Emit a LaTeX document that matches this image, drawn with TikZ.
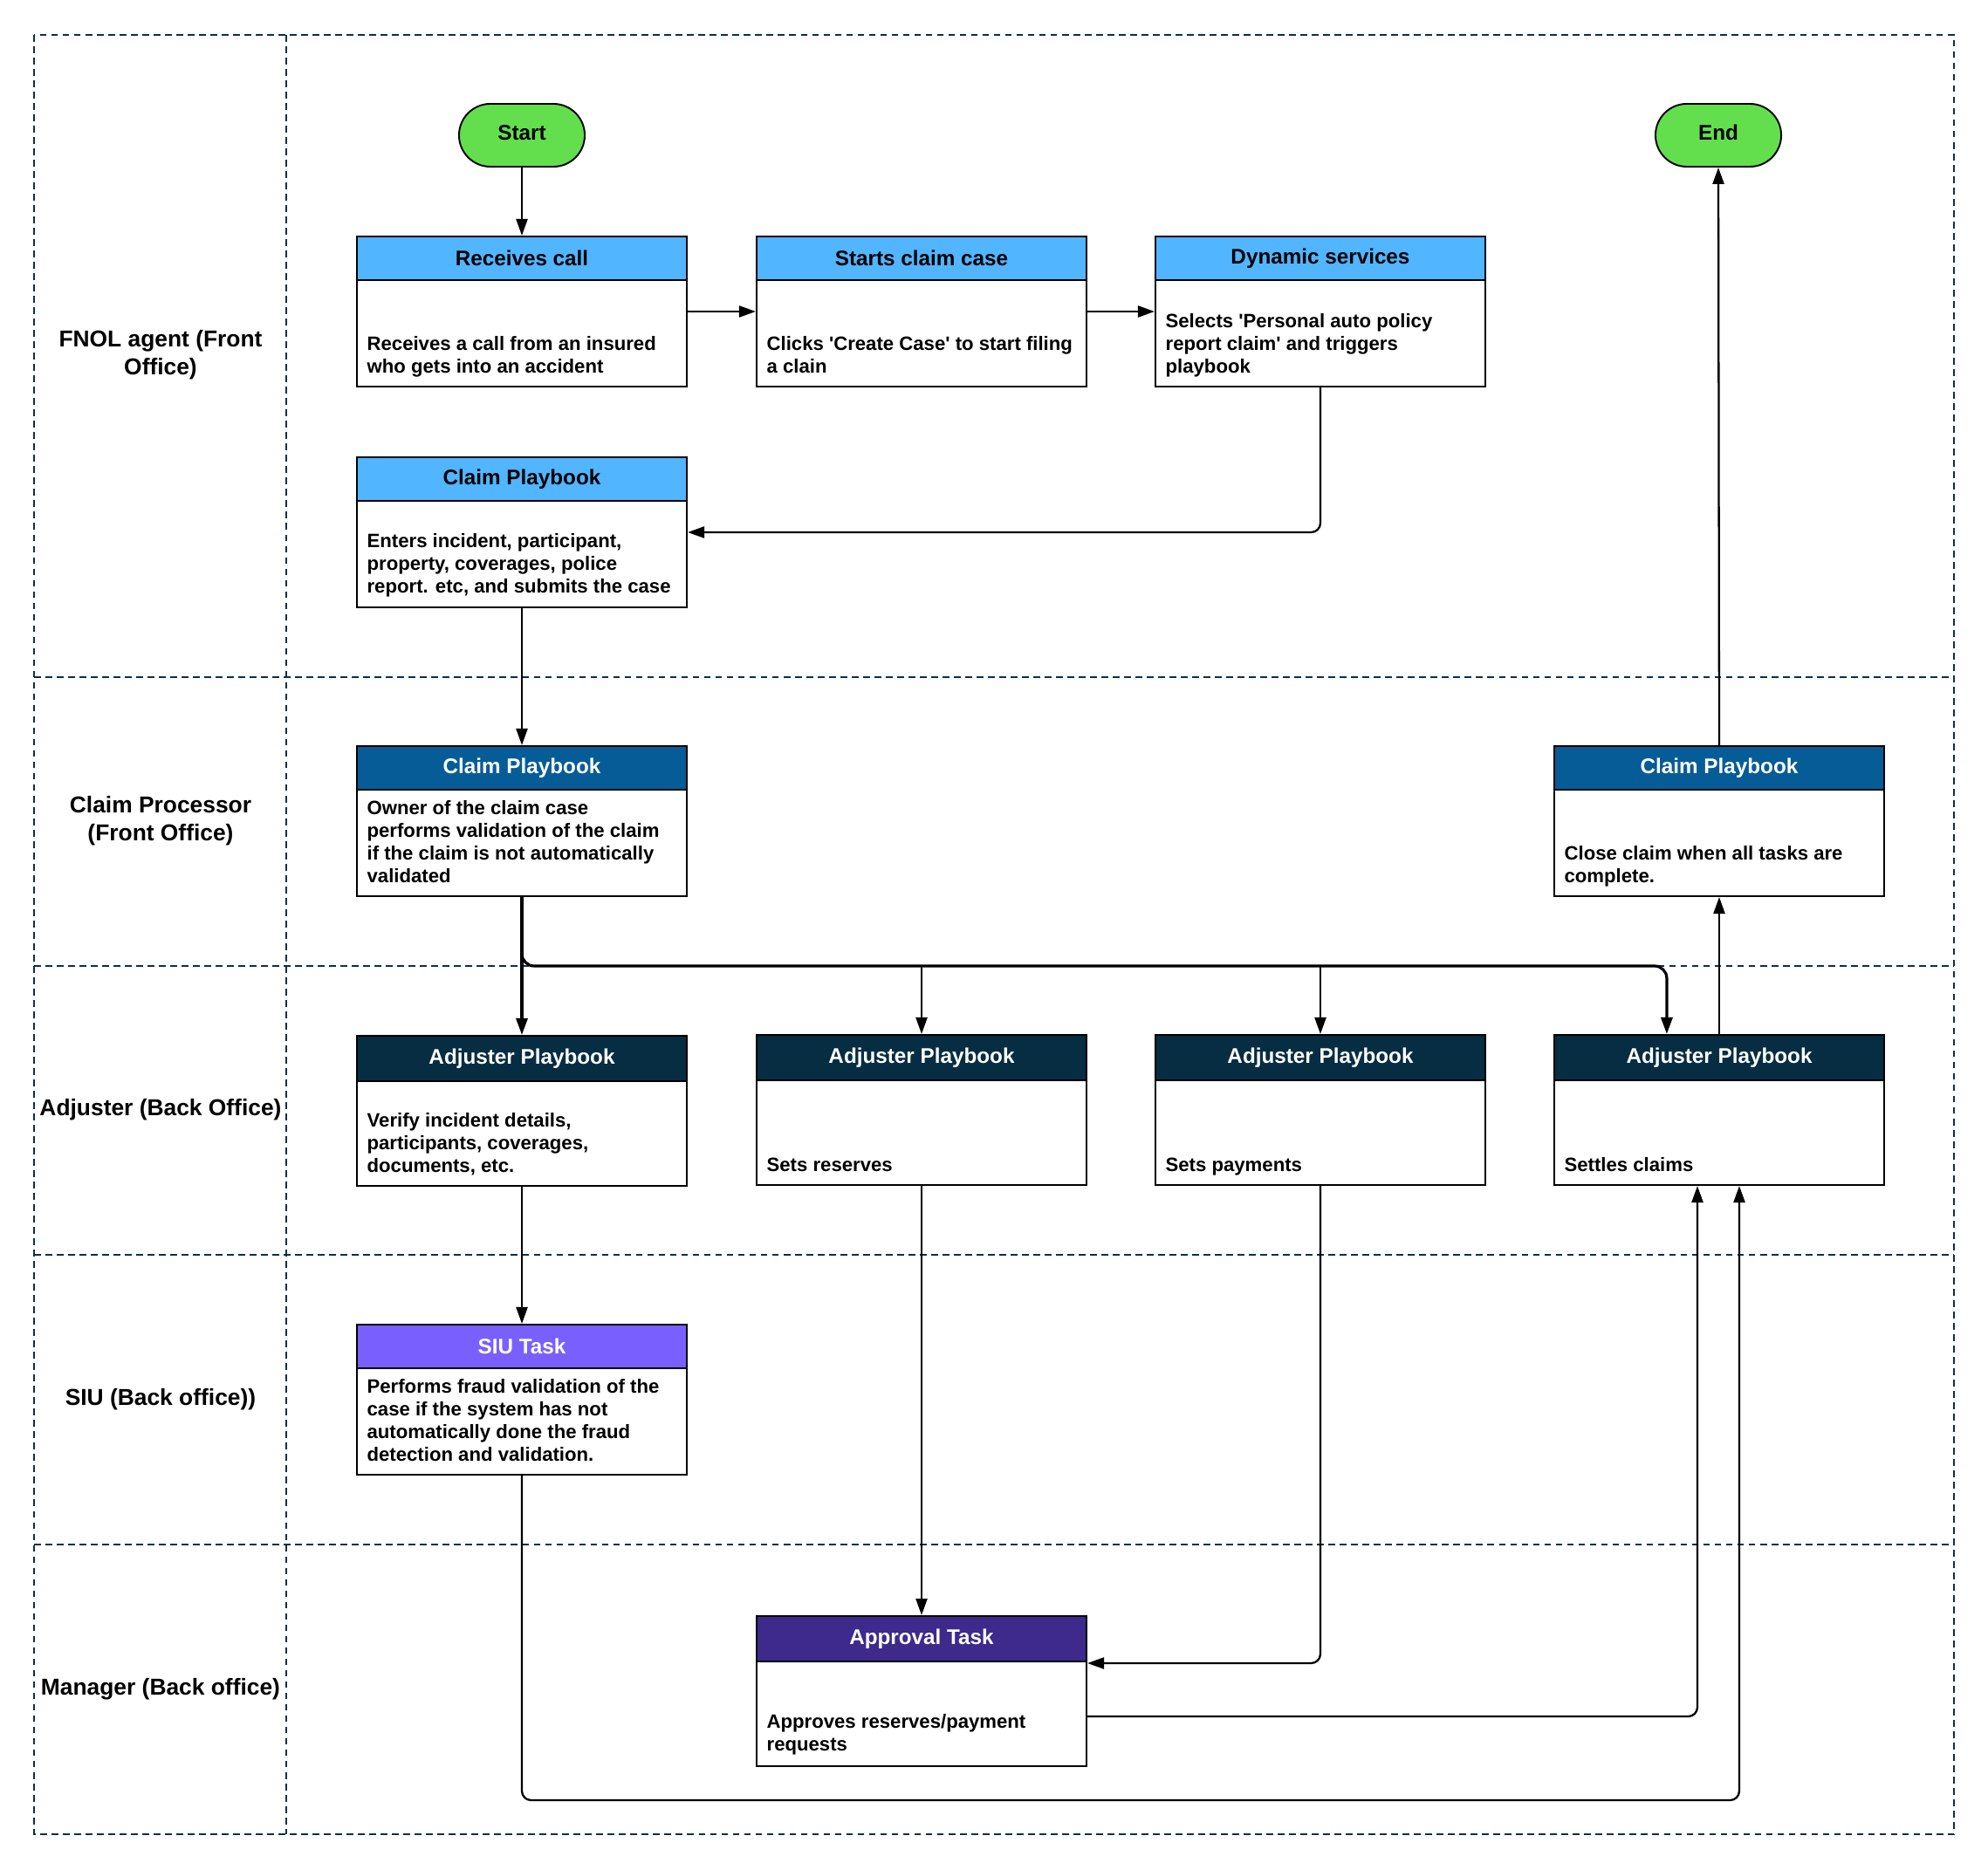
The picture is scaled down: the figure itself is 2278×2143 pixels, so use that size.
\documentclass[tikz,border=0pt]{standalone}
\usepackage{fontspec}
\setmainfont{Liberation Sans}
\usetikzlibrary{arrows.meta,calc}
\definecolor{hdrlight}{HTML}{52B5FF}
\definecolor{hdrblue}{HTML}{065C97}
\definecolor{hdrnavy}{HTML}{062D42}
\definecolor{hdrsiu}{HTML}{7A5FFF}
\definecolor{hdrappr}{HTML}{3D2A8C}
\definecolor{termgreen}{HTML}{63DF4E}
\definecolor{lanecol}{HTML}{0A3048}
\begin{document}
\begin{tikzpicture}[x=0.01cm,y=-0.01cm,
  lane/.style={draw=lanecol, line width=0.45pt, dash pattern=on 2.2pt off 1.5pt},
  box/.style={draw, line width=0.55pt, fill=white, minimum width=3.78cm, minimum height=1.72cm, inner sep=0pt},
  hdr/.style={draw, line width=0.55pt, minimum width=3.78cm, minimum height=0.5cm, inner sep=0pt, anchor=north, font=\fontsize{6.9}{8}\selectfont\bfseries},
  hdrdark/.style={hdr, minimum height=0.52cm, text=white},
  body/.style={anchor=south west, align=left, inner sep=0pt, font=\fontsize{6.3}{7.4}\selectfont\bfseries},
  lanelabel/.style={align=center, inner sep=0pt, font=\fontsize{7.5}{9.2}\selectfont\bfseries},
  term/.style={draw, line width=0.55pt, fill=termgreen, rounded corners=0.36cm, minimum width=1.44cm, minimum height=0.72cm, font=\fontsize{6.9}{8}\selectfont\bfseries},
  arr/.style={line width=0.65pt, -{Triangle[length=5.4pt,width=3.7pt]}},
  fork/.style={arr, line width=0.9pt}
]
\useasboundingbox (0,0) rectangle (2278,2143);
% swimlanes
\draw[lane] (39,40) rectangle (2239,2102);
\draw[lane] (328,40) -- (328,2102);
\foreach \yy in {776,1107,1438,1770} \draw[lane] (39,\yy) -- (2239,\yy);
\node[lanelabel] (l1) at (184,407) {FNOL agent (Front\\Office)};
\node[lanelabel] (l2) at (184,941) {Claim Processor\\(Front Office)};
\node[lanelabel] (l3) at (184,1272) {Adjuster (Back Office)};
\node[lanelabel] (l4) at (184,1604) {SIU (Back office))};
\node[lanelabel] (l5) at (184,1936) {Manager (Back office)};
% terminals
\node[term] (startn) at (598,155) {\raisebox{1.7pt}{Start}};
\node[term] (endn) at (1969,155) {\raisebox{1.7pt}{End}};
% FNOL row
\node[box] (rc) at (598,357) {};
\node[hdr, fill=hdrlight] (rch) at (rc.north) {Receives call};
\node[body] (rcb) at ($(rc.south west)+(12,-8)$) {Receives a call from an insured\\who gets into an accident\strut};
\node[box] (scc) at (1056,357) {};
\node[hdr, fill=hdrlight] (scch) at (scc.north) {Starts claim case};
\node[body] (sccb) at ($(scc.south west)+(12,-8)$) {Clicks \textquotesingle Create Case\textquotesingle{} to start filing\\a clain\strut};
\node[box] (dyn) at (1513,357) {};
\node[hdr, fill=hdrlight] (dynh) at (dyn.north) {Dynamic services};
\node[body] (dynb) at ($(dyn.south west)+(12,-8)$) {Selects \textquotesingle Personal auto policy\\report claim\textquotesingle{} and triggers\\playbook\strut};
\node[box] (cpf) at (598,610) {};
\node[hdr, fill=hdrlight] (cpfh) at (cpf.north) {Claim Playbook};
\node[body] (cpfb) at ($(cpf.south west)+(12,-9)$) {Enters incident, participant,\\property, coverages, police\\report. etc, and submits the case\strut};
% Claim processor row
\node[box] (cpp) at (598,941) {};
\node[hdr, fill=hdrblue, text=white] (cpph) at (cpp.north) {Claim Playbook};
\node[body] (cppb) at ($(cpp.south west)+(12,-8)$) {Owner of the claim case\\performs validation of the claim\\if the claim is not automatically\\validated\strut};
\node[box] (ccp) at (1970,941) {};
\node[hdr, fill=hdrblue, text=white] (ccph) at (ccp.north) {Claim Playbook};
\node[body] (ccpb) at ($(ccp.south west)+(12,-8)$) {Close claim when all tasks are\\complete.\strut};
% Adjuster row
\node[box] (adj1) at (598,1273) {};
\node[hdrdark, fill=hdrnavy] (adj1h) at (adj1.north) {Adjuster Playbook};
\node[body] (adj1b) at ($(adj1.south west)+(12,-8)$) {Verify incident details,\\participants, coverages,\\documents, etc.\strut};
\node[box] (adj2) at (1056,1272) {};
\node[hdrdark, fill=hdrnavy] (adj2h) at (adj2.north) {Adjuster Playbook};
\node[body] (adj2b) at ($(adj2.south west)+(12,-8)$) {Sets reserves\strut};
\node[box] (adj3) at (1513,1272) {};
\node[hdrdark, fill=hdrnavy] (adj3h) at (adj3.north) {Adjuster Playbook};
\node[body] (adj3b) at ($(adj3.south west)+(12,-8)$) {Sets payments\strut};
\node[box] (adj4) at (1970,1272) {};
\node[hdrdark, fill=hdrnavy] (adj4h) at (adj4.north) {Adjuster Playbook};
\node[body] (adj4b) at ($(adj4.south west)+(12,-8)$) {Settles claims\strut};
% SIU row
\node[box] (siu) at (598,1604) {};
\node[hdr, fill=hdrsiu, text=white] (siuh) at (siu.north) {SIU Task};
\node[body] (siub) at ($(siu.south west)+(12,-8)$) {Performs fraud validation of the\\case if the system has not\\automatically done the fraud\\detection and validation.\strut};
% Manager row
\node[box] (app) at (1056,1938) {};
\node[hdrdark, fill=hdrappr] (apph) at (app.north) {Approval Task};
\node[body] (appb) at ($(app.south west)+(12,-10)$) {Approves reserves/payment\\requests\strut};
% connectors
\draw[arr] (startn.south) -- (rc.north);
\draw[arr] (rc.east) -- (scc.west);
\draw[arr] (scc.east) -- (dyn.west);
\draw[arr, rounded corners=3pt] (dyn.south) |- (cpf.east);
\draw[arr] (cpf.south) -- (cpp.north);
\coordinate (fk) at (598,1107);
\coordinate (a4in) at ($(adj4.north west)+(130,0)$);
\draw[fork] (cpp.south) -- (adj1.north);
\draw[fork, rounded corners=4pt] (cpp.south) -- (fk) -- (fk -| a4in) -- (a4in);
\draw[arr] (fk -| adj2.north) -- (adj2.north);
\draw[arr] (fk -| adj3.north) -- (adj3.north);
\draw[arr] (adj4.north) -- (ccp.south);
\draw[arr] (ccp.north) -- (endn.south);
\draw[arr] (adj1.south) -- (siu.north);
\draw[arr] (adj2.south) -- (app.north);
\draw[arr, rounded corners=3pt] (adj3.south) |- ($(app.north east)+(0,55)$);
\draw[arr, rounded corners=3pt] ($(app.south east)+(0,-58)$) -| ($(adj4.south)+(-25,0)$);
\draw[arr, rounded corners=3pt] (siu.south) -- ++(0,372) -| ($(adj4.south)+(23,0)$);
\end{tikzpicture}
\end{document}
